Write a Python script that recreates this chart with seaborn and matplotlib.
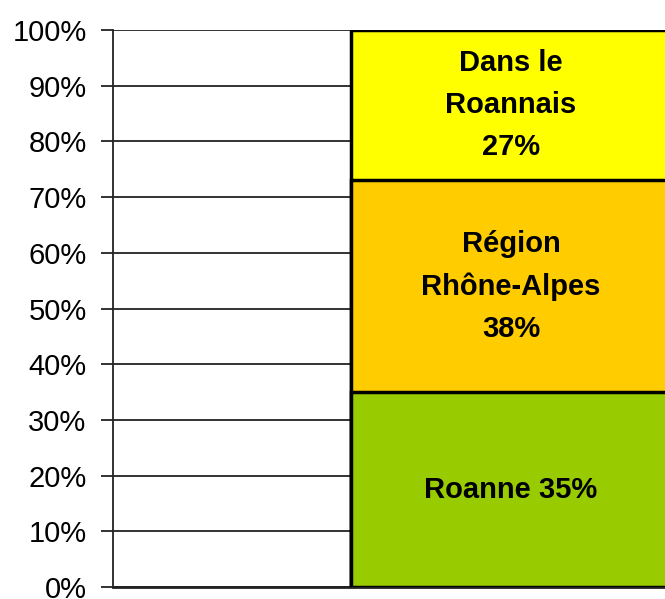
import matplotlib
matplotlib.use("Agg")
import matplotlib.pyplot as plt
import seaborn as sns
import numpy as np
import pandas as pd
from matplotlib.ticker import FuncFormatter, MultipleLocator

# Data
categories = ["Roanne", "Région Rhône-Alpes", "Dans le Roannais"]
labels = ["Roanne 35%", "Région\nRhône-Alpes\n38%", "Dans le\nRoannais\n27%"]
values = [35, 38, 27]
colors = ["#99CC00", "#FFCC00", "#FFFF00"]
bar_group = ["Origine"]

sns.set_theme(style="white")
plt.rcParams["font.family"] = ["Liberation Sans", "DejaVu Sans"]
plt.rcParams["text.color"] = "black"

fig = plt.figure(figsize=(6.65, 5.99), dpi=100)
W_px, H_px = 665, 599
bar_px = 320
left_px = 113
bar_left_px = 351
xmin = -0.5 - (bar_left_px - left_px) / bar_px
xmax = -xmin
ax_w_px = (xmax - xmin) * bar_px
ax = fig.add_axes([left_px / W_px, 12 / H_px, ax_w_px / W_px, 557 / H_px])

cum = np.cumsum(values)
# draw stacked bars from the top total down
for i in range(len(values) - 1, -1, -1):
    df = pd.DataFrame({"g": bar_group, "v": [cum[i]]})
    sns.barplot(data=df, x="g", y="v", color=colors[i], saturation=1,
                width=1.0, edgecolor="black", linewidth=2.5, ax=ax, zorder=3)

bottoms = cum - np.array(values)
for lab, b, v in zip(labels, bottoms, values):
    ax.text(0, b + v / 2, lab, ha="center", va="center", fontsize=21,
            fontweight="bold", color="black",
            family=["Liberation Sans", "DejaVu Sans"],
            linespacing=1.65, zorder=5)

ax.set_xlim(xmin, xmax)
ax.set_ylim(0, 100)
ax.yaxis.set_major_locator(MultipleLocator(10))
ax.yaxis.set_major_formatter(FuncFormatter(lambda v, p: f"{int(v)}%"))
ax.grid(axis="y", color="#222222", linewidth=1.3, zorder=0)
ax.set_axisbelow(True)
ax.set_xlabel("")
ax.set_ylabel("")
ax.set_xticks([])
ax.tick_params(axis="y", which="major", left=True, length=9, width=1.3,
               color="#222222", labelsize=21, pad=10, labelcolor="black")
for s in ["top", "right"]:
    ax.spines[s].set_visible(False)
ax.spines["left"].set_color("#222222")
ax.spines["left"].set_linewidth(1.3)
ax.spines["bottom"].set_color("#222222")
ax.spines["bottom"].set_linewidth(2)

fig.savefig("out.png", dpi=100)
